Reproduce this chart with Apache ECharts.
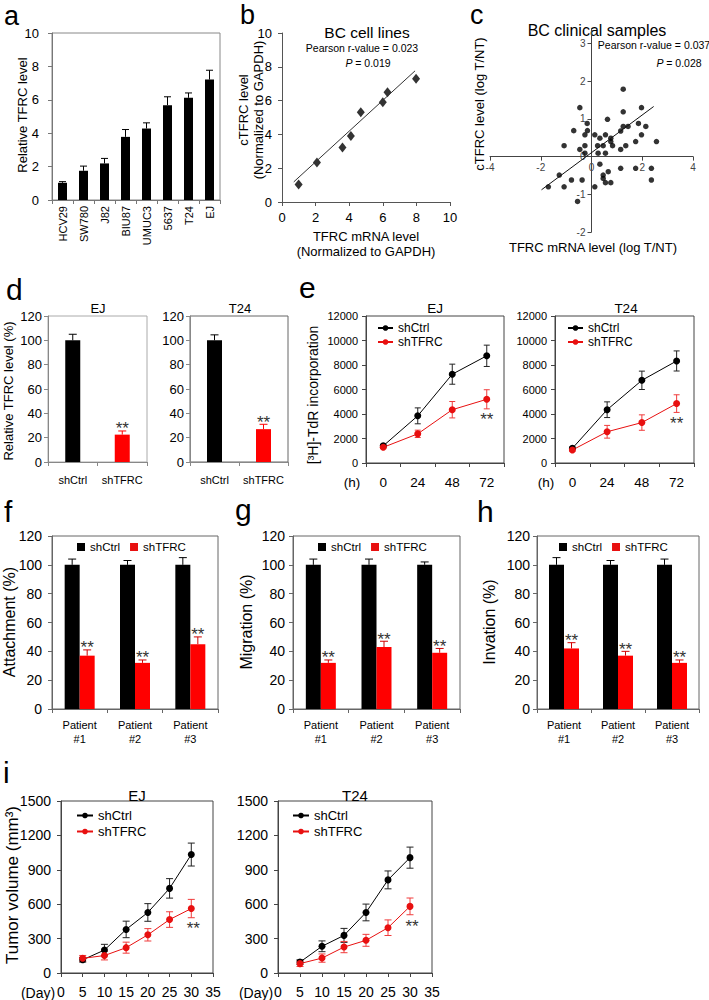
<!DOCTYPE html>
<html><head><meta charset="utf-8">
<script src="https://cdn.jsdelivr.net/npm/echarts@6/dist/echarts.min.js"></script>
<style>html,body{margin:0;padding:0;background:#fff}#c{width:709px;height:1000px}</style>
</head><body><div id="c"></div>
<script>
// ---------- data ----------
const aCats = ['HCV29','SW780','J82','BIU87','UMUC3','5637','T24','EJ'];
const aVals = [1.03,1.75,2.19,3.78,4.28,5.68,6.12,7.21];
const aErr  = [0.07,0.28,0.3,0.44,0.34,0.5,0.29,0.56];

const bX = [0.99,2.08,3.6,4.1,4.69,6.0,6.28,7.98];
const bY = [1.03,2.34,3.23,3.9,5.31,5.9,6.5,7.29];
const bFitX = [0.7,7.92];
const bFitY = [1.19,7.76];

const cX = [-1.08,-0.46,-0.70,-0.46,-0.26,-0.17,-0.16,-0.26,-0.26,0.13,0.24,0.26,0.33,0.46,0.55,0.55,0.63,0.76,0.76,0.83,1.15,1.15,1.25,1.25,1.25,1.44,1.35,1.74,1.85,1.97,1.97,2.14,2.56,0.33,0.46,0.46,0.55,0.66,0.76,0.13,-0.37,-0.55,-0.79,-1.27,-1.08,-1.70,1.15,1.74,2.36,2.36];
const cY = [0.29,1.30,0.69,0.19,0.58,0.88,0.69,0.29,0.09,0.58,0.29,0.09,0.49,0.29,0.58,0.09,0.99,0.49,0.40,0.29,0.68,0.19,1.79,1.19,0.80,0.80,0.29,0.40,0.88,1.30,0.58,0.80,0.40,-0.20,-0.49,-0.58,-0.69,-0.40,-0.69,-0.80,-0.62,-1.19,-0.62,-0.49,-0.80,-0.80,-0.31,-0.31,-0.31,-0.62];
const cFitX = [-1.97,2.45];
const cFitY = [-0.88,1.33];
const cXTicks = [-4,-2,0,2,4];
const cYTicks = [-2,-1,0,1,2,3];

const dCats = ['shCtrl','shTFRC'];
const dEJ = [100,22.5];   const dEJErr = [5,3];
const dT24 = [100,27];    const dT24Err = [4.5,4];

const eCats = ['0','24','48','72'];
const eEJCtrl = [1400,3850,7250,8750];  const eEJCtrlErr = [120,650,820,870];
const eEJTfrc = [1280,2380,4350,5200];  const eEJTfrcErr = [100,300,670,780];
const eT24Ctrl = [1200,4350,6750,8330]; const eT24CtrlErr = [100,640,750,820];
const eT24Tfrc = [1060,2550,3300,4850]; const eT24TfrcErr = [100,520,630,720];

const patients = ['Patient\n#1','Patient\n#2','Patient\n#3'];
const fCtrl = [100,100,100]; const fCtrlErr = [4,3,5];
const fTfrc = [37,32,45];    const fTfrcErr = [4,2,5];
const gCtrl = [100,100,100]; const gCtrlErr = [4,4,2];
const gTfrc = [32,43,39];    const gTfrcErr = [2,4,3];
const hCtrl = [100,100,100]; const hCtrlErr = [5,3,4];
const hTfrc = [42,37,32];    const hTfrcErr = [4,3,2];

const iDays = [5,10,15,20,25,30];
const iEJCtrl = [115,200,380,528,738,1033]; const iEJCtrlErr = [20,50,72,77,85,100];
const iEJTfrc = [128,152,221,333,466,562];  const iEJTfrcErr = [25,38,48,54,68,80];
const iT24Ctrl = [95,233,328,528,812,1006]; const iT24CtrlErr = [20,47,61,73,78,92];
const iT24Tfrc = [82,130,226,285,395,581];  const iT24TfrcErr = [25,36,49,52,68,73];

// ---------- helpers ----------
const FF = "'Liberation Sans', Arial, Helvetica, sans-serif";
const RED = '#ff0000';
const LRED = '#e81010';
const grids = [], xAxes = [], yAxes = [], series = [], legends = [], graphics = [];
const plain = v => String(v);

function addGrid(g, frame){
  grids.push(Object.assign({show: !!frame, borderColor: frame || 'transparent', borderWidth: 1, backgroundColor: 'transparent', containLabel: false}, g));
  return grids.length - 1;
}
function ax(gi, color, extra, label){
  const lab = Object.assign({color: '#000', fontFamily: FF, fontSize: 13}, label || {});
  if (extra.type === 'value') lab.formatter = plain;
  return Object.assign({
    gridIndex: gi,
    axisLine: {show: true, onZero: false, lineStyle: {color: color, width: 1}},
    axisTick: {show: true, inside: false, length: 4, lineStyle: {color: color, width: 1}},
    splitLine: {show: false},
    axisLabel: lab
  }, extra);
}
function zip(xs, ys){ return xs.map((x, i) => [x, ys[i]]); }
function errData(xs, vs, es){ return vs.map((v, i) => [xs ? xs[i] : i, v, es[i]]); }
function errSeries(gi, data, color, o){
  o = o || {};
  return {
    type: 'custom', coordinateSystem: 'cartesian2d', xAxisIndex: gi, yAxisIndex: gi, data: data, silent: true, z: 5,
    encode: {x: 0, y: 1},
    renderItem: function(params, api){
      const x = api.value(0), v = api.value(1), e = api.value(2);
      const p = api.coord([x, v]), t = api.coord([x, v + e]), b = api.coord([x, o.upper ? v : v - e]);
      const cx = p[0] + (o.dx || 0), cap = o.cap || 3.5;
      const st = {stroke: color, lineWidth: 1};
      const ch = [
        {type: 'line', shape: {x1: cx, y1: t[1], x2: cx, y2: b[1]}, style: st},
        {type: 'line', shape: {x1: cx - cap, y1: t[1], x2: cx + cap, y2: t[1]}, style: st}
      ];
      if (!o.upper) ch.push({type: 'line', shape: {x1: cx - cap, y1: b[1], x2: cx + cap, y2: b[1]}, style: st});
      if (o.star === 'all' || (o.star === 'last' && params.dataIndex === params.dataInsideLength - 1)) {
        const sy = o.starBelow ? p[1] + 20 : t[1] - 2;
        ch.push({type: 'text', x: cx + (o.starDx || 0), y: sy,
          style: {text: '**', fontSize: 17, fontFamily: FF, fill: '#333', align: 'center', verticalAlign: 'middle'}});
      }
      return {type: 'group', children: ch};
    }
  };
}
function txt(text, x, y, size, align, rot, extra){
  graphics.push({type: 'text', x: x, y: y, rotation: rot ? Math.PI / 2 : 0, silent: true,
    style: Object.assign({text: text, fontSize: size, fontFamily: FF, fill: '#000', align: align || 'center', verticalAlign: 'middle'}, extra || {})});
}
function lineSeries(gi, name, data, color){
  return {type: 'line', name: name, xAxisIndex: gi, yAxisIndex: gi, data: data, symbol: 'circle', symbolSize: 7,
    lineStyle: {color: color, width: 1}, itemStyle: {color: color}, z: 6, silent: true};
}
function legendAt(left, top, o){
  legends.push(Object.assign({left: left, top: top, orient: 'vertical', padding: 0, itemGap: 2, itemWidth: 15, itemHeight: 7,
    selectedMode: false, data: ['shCtrl', 'shTFRC'], textStyle: {fontFamily: FF, fontSize: 12, color: '#000'}}, o || {}));
}

// ---------- panel e (first so the legend picks line icons) ----------
function panelE(left, width, ctrl, ctrlErr, tfrc, tfrcErr, legLeft){
  const gi = addGrid({left: left, top: 316, width: width, height: 147}, '#444');
  xAxes.push(ax(gi, '#444', {type: 'category', data: eCats, boundaryGap: true}, {fontSize: 13.5, margin: 12, interval: 0}));
  yAxes.push(ax(gi, '#444', {type: 'value', min: 0, max: 12000, interval: 2000}, {fontSize: 11, margin: 8}));
  series.push(errSeries(gi, errData(null, ctrl, ctrlErr), '#222', {cap: 3}));
  series.push(errSeries(gi, errData(null, tfrc, tfrcErr), '#f03c3c', {cap: 3, star: 'last', starBelow: true}));
  series.push(lineSeries(gi, 'shCtrl', ctrl, '#000'));
  series.push(lineSeries(gi, 'shTFRC', tfrc, LRED));
  legendAt(legLeft, 322);
}
panelE(366, 138, eEJCtrl, eEJCtrlErr, eEJTfrc, eEJTfrcErr, 377);
panelE(555, 139, eT24Ctrl, eT24CtrlErr, eT24Tfrc, eT24TfrcErr, 567);

// ---------- panel i ----------
function panelI(left, width, ctrl, ctrlErr, tfrc, tfrcErr, legLeft){
  const gi = addGrid({left: left, top: 801, width: width, height: 172}, '#444');
  xAxes.push(ax(gi, '#444', {type: 'value', min: 0, max: 35, interval: 5}, {fontSize: 14, margin: 12}));
  yAxes.push(ax(gi, '#444', {type: 'value', min: 0, max: 1500, interval: 300}, {fontSize: 14, margin: 10}));
  series.push(errSeries(gi, errData(iDays, ctrl, ctrlErr), '#222', {cap: 3.5}));
  series.push(errSeries(gi, errData(iDays, tfrc, tfrcErr), '#f03c3c', {cap: 3.5, star: 'last', starBelow: true, starDx: 2}));
  series.push(lineSeries(gi, 'shCtrl', zip(iDays, ctrl), '#000'));
  series.push(lineSeries(gi, 'shTFRC', zip(iDays, tfrc), LRED));
  legendAt(legLeft, 809, {itemGap: 3, itemWidth: 16, textStyle: {fontFamily: FF, fontSize: 13, color: '#000'}});
}
panelI(61, 152, iEJCtrl, iEJCtrlErr, iEJTfrc, iEJTfrcErr, 76);
panelI(278, 154, iT24Ctrl, iT24CtrlErr, iT24Tfrc, iT24TfrcErr, 292);

// ---------- panel a ----------
(function(){
  const gi = addGrid({left: 52, top: 33, width: 168, height: 167}, '#888');
  xAxes.push(ax(gi, '#777', {type: 'category', data: aCats, boundaryGap: true}, {rotate: 90, fontSize: 11, margin: 6, interval: 0}));
  yAxes.push(ax(gi, '#777', {type: 'value', min: 0, max: 10, interval: 2}, {fontSize: 13, margin: 13}));
  series.push({type: 'bar', xAxisIndex: gi, yAxisIndex: gi, data: aVals, barWidth: 9, itemStyle: {color: '#000'}, silent: true});
  series.push(errSeries(gi, errData(null, aVals, aErr), '#000', {upper: true, cap: 3.5}));
})();

// ---------- panel b ----------
(function(){
  const gi = addGrid({left: 282, top: 33, width: 168, height: 169}, null);
  xAxes.push(ax(gi, '#555', {type: 'value', min: 0, max: 10, interval: 2}, {fontSize: 13, margin: 9}));
  yAxes.push(ax(gi, '#555', {type: 'value', min: 0, max: 10, interval: 2}, {fontSize: 13, margin: 10}));
  series.push({type: 'line', xAxisIndex: gi, yAxisIndex: gi, data: zip(bFitX, bFitY), symbol: 'none', lineStyle: {color: '#333', width: 1}, silent: true});
  series.push({type: 'scatter', xAxisIndex: gi, yAxisIndex: gi, data: zip(bX, bY), symbol: 'diamond', symbolSize: [8, 10], itemStyle: {color: '#000'}, silent: true});
})();

// ---------- panel c (axes crossing at the origin) ----------
(function(){
  const G = {left: 490, top: 28.5, width: 203, height: 203.5};
  const xMin = -4, xMax = 4, yMin = -2, yMax = 3.4;
  const gi = addGrid(G, null);
  const lab = {fontSize: 10, color: '#444'};
  // shift each axis from the grid edge onto the other axis's zero
  const xOff = -G.height * (0 - yMin) / (yMax - yMin);
  const yOff = -G.width * (0 - xMin) / (xMax - xMin);
  const xa = ax(gi, '#444', {type: 'value', min: xMin, max: xMax, position: 'bottom', offset: xOff}, Object.assign({margin: 6, customValues: cXTicks}, lab));
  xa.axisTick.customValues = cXTicks;
  xAxes.push(xa);
  const ya = ax(gi, '#444', {type: 'value', min: yMin, max: yMax, position: 'left', offset: yOff}, Object.assign({margin: 6, customValues: cYTicks}, lab));
  ya.axisTick.customValues = cYTicks;
  yAxes.push(ya);
  series.push({type: 'line', xAxisIndex: gi, yAxisIndex: gi, data: zip(cFitX, cFitY), symbol: 'none', lineStyle: {color: '#111', width: 1}, silent: true});
  series.push({type: 'scatter', xAxisIndex: gi, yAxisIndex: gi, data: zip(cX, cY), symbol: 'circle', symbolSize: 5.5, itemStyle: {color: '#000'}, silent: true});
})();

// ---------- panel d ----------
function panelD(left, width, vals, errs, frame){
  const gi = addGrid({left: left, top: 316, width: width, height: 146}, frame);
  xAxes.push(ax(gi, '#888', {type: 'category', data: dCats, boundaryGap: true}, {fontSize: 11, margin: 12, interval: 0}));
  yAxes.push(ax(gi, '#888', {type: 'value', min: 0, max: 120, interval: 20}, {fontSize: 13, margin: 6}));
  series.push({type: 'bar', xAxisIndex: gi, yAxisIndex: gi, barWidth: 15, silent: true,
    data: [{value: vals[0], itemStyle: {color: '#000'}}, {value: vals[1], itemStyle: {color: RED}}]});
  series.push(errSeries(gi, [[0, vals[0], errs[0]]], '#000', {upper: true, cap: 4}));
  series.push(errSeries(gi, [[1, vals[1], errs[1]]], RED, {upper: true, cap: 4, star: 'all'}));
}
panelD(48, 99, dEJ, dEJErr, '#aaa');
panelD(190, 98, dT24, dT24Err, '#666');

// ---------- panels f g h ----------
function panelBar(left, width, ctrl, ctrlErr, tfrc, tfrcErr, legLeft, labMargin){
  const gi = addGrid({left: left, top: 536, width: width, height: 173}, '#666');
  xAxes.push(ax(gi, '#666', {type: 'category', data: patients, boundaryGap: true}, {fontSize: 11, lineHeight: 14, margin: 9, interval: 0}));
  yAxes.push(ax(gi, '#666', {type: 'value', min: 0, max: 120, interval: 20}, {fontSize: 14, margin: labMargin}));
  series.push({type: 'bar', name: 'shCtrl', xAxisIndex: gi, yAxisIndex: gi, data: ctrl, barWidth: 15, barGap: '0%', itemStyle: {color: '#000'}, silent: true});
  series.push({type: 'bar', name: 'shTFRC', xAxisIndex: gi, yAxisIndex: gi, data: tfrc, barWidth: 15, barGap: '0%', itemStyle: {color: RED}, silent: true});
  series.push(errSeries(gi, errData(null, ctrl, ctrlErr), '#000', {upper: true, cap: 4, dx: -7.5}));
  series.push(errSeries(gi, errData(null, tfrc, tfrcErr), '#d00000', {upper: true, cap: 4, dx: 7.5, star: 'all'}));
  legendAt(legLeft, 541, {orient: 'horizontal', icon: 'rect', itemWidth: 8, itemHeight: 8, itemGap: 10,
    textStyle: {fontFamily: FF, fontSize: 11.5, color: '#000'}});
}
panelBar(52, 166, fCtrl, fCtrlErr, fTfrc, fTfrcErr, 77, 10);
panelBar(293, 167, gCtrl, gCtrlErr, gTfrc, gTfrcErr, 318, 8);
panelBar(537, 162, hCtrl, hCtrlErr, hTfrc, hTfrcErr, 559, 7);

// ---------- texts ----------
const L = {lineHeight: 16};
txt('a', 4, 15.5, 27, 'left', false, L);
txt('b', 240, 15, 27, 'left', false, L);
txt('c', 470, 15, 27, 'left', false, L);
txt('d', 6, 289.5, 30, 'left', false, L);
txt('e', 299, 287.5, 30, 'left', false, L);
txt('f', 4, 511.5, 30, 'left', false, L);
txt('g', 235, 509.5, 30, 'left', false, L);
txt('h', 477, 511.5, 30, 'left', false, L);
txt('i', 3, 772.5, 30, 'left', false, L);

txt('Relative TFRC level', 22, 115, 13, 'center', true);
txt('BC cell lines', 367, 32, 15.5);
txt('Pearson r-value = 0.023', 362, 48, 10.5);
txt('{i|P} = 0.019', 368, 63, 10.5, 'center', false, {rich: {i: {fontStyle: 'italic', fontSize: 10.5, fontFamily: FF}}});
txt('cTFRC level\n(Normalized to GAPDH)', 251, 110, 13, 'center', true, {lineHeight: 15});
txt('TFRC mRNA level\n(Normalized to GAPDH)', 366, 243.5, 13, 'center', false, {lineHeight: 15});

txt('BC clinical samples', 597, 30, 16);
txt('Pearson r-value = 0.037', 654, 44.5, 10.5);
txt('{i|P} = 0.028', 679, 63, 10.5, 'center', false, {rich: {i: {fontStyle: 'italic', fontSize: 10.5, fontFamily: FF}}});
txt('cTFRC level (log T/NT)', 479, 104, 13, 'center', true);
txt('TFRC mRNA level (log T/NT)', 593, 247, 13);

txt('Relative TFRC level (%)', 8, 391, 13, 'center', true);
txt('EJ', 98, 308, 13);
txt('T24', 240, 308, 13);

txt('[³H]-TdR incorporation', 313, 395, 14, 'center', true);
txt('EJ', 435, 308, 13.5);
txt('T24', 626, 308, 13.5);
txt('(h)', 352, 482, 13.5);
txt('(h)', 546, 482, 13.5);

txt('Attachment (%)', 9, 622, 16, 'center', true);
txt('Migration (%)', 246, 622, 16, 'center', true);
txt('Invation (%)', 489, 622, 16, 'center', true);

txt('Tumor volume (mm³)', 12, 885, 17, 'center', true);
txt('EJ', 137, 795, 15);
txt('T24', 355, 795, 15);
txt('(Day)', 38, 993, 14);
txt('(Day)', 256, 993, 14);

const chart = echarts.init(document.getElementById('c'), null, {renderer: 'svg', width: 709, height: 1000});
chart.setOption({
  animation: false,
  backgroundColor: '#fff',
  textStyle: {fontFamily: FF},
  grid: grids, xAxis: xAxes, yAxis: yAxes, legend: legends, series: series, graphic: graphics
});
</script></body></html>
